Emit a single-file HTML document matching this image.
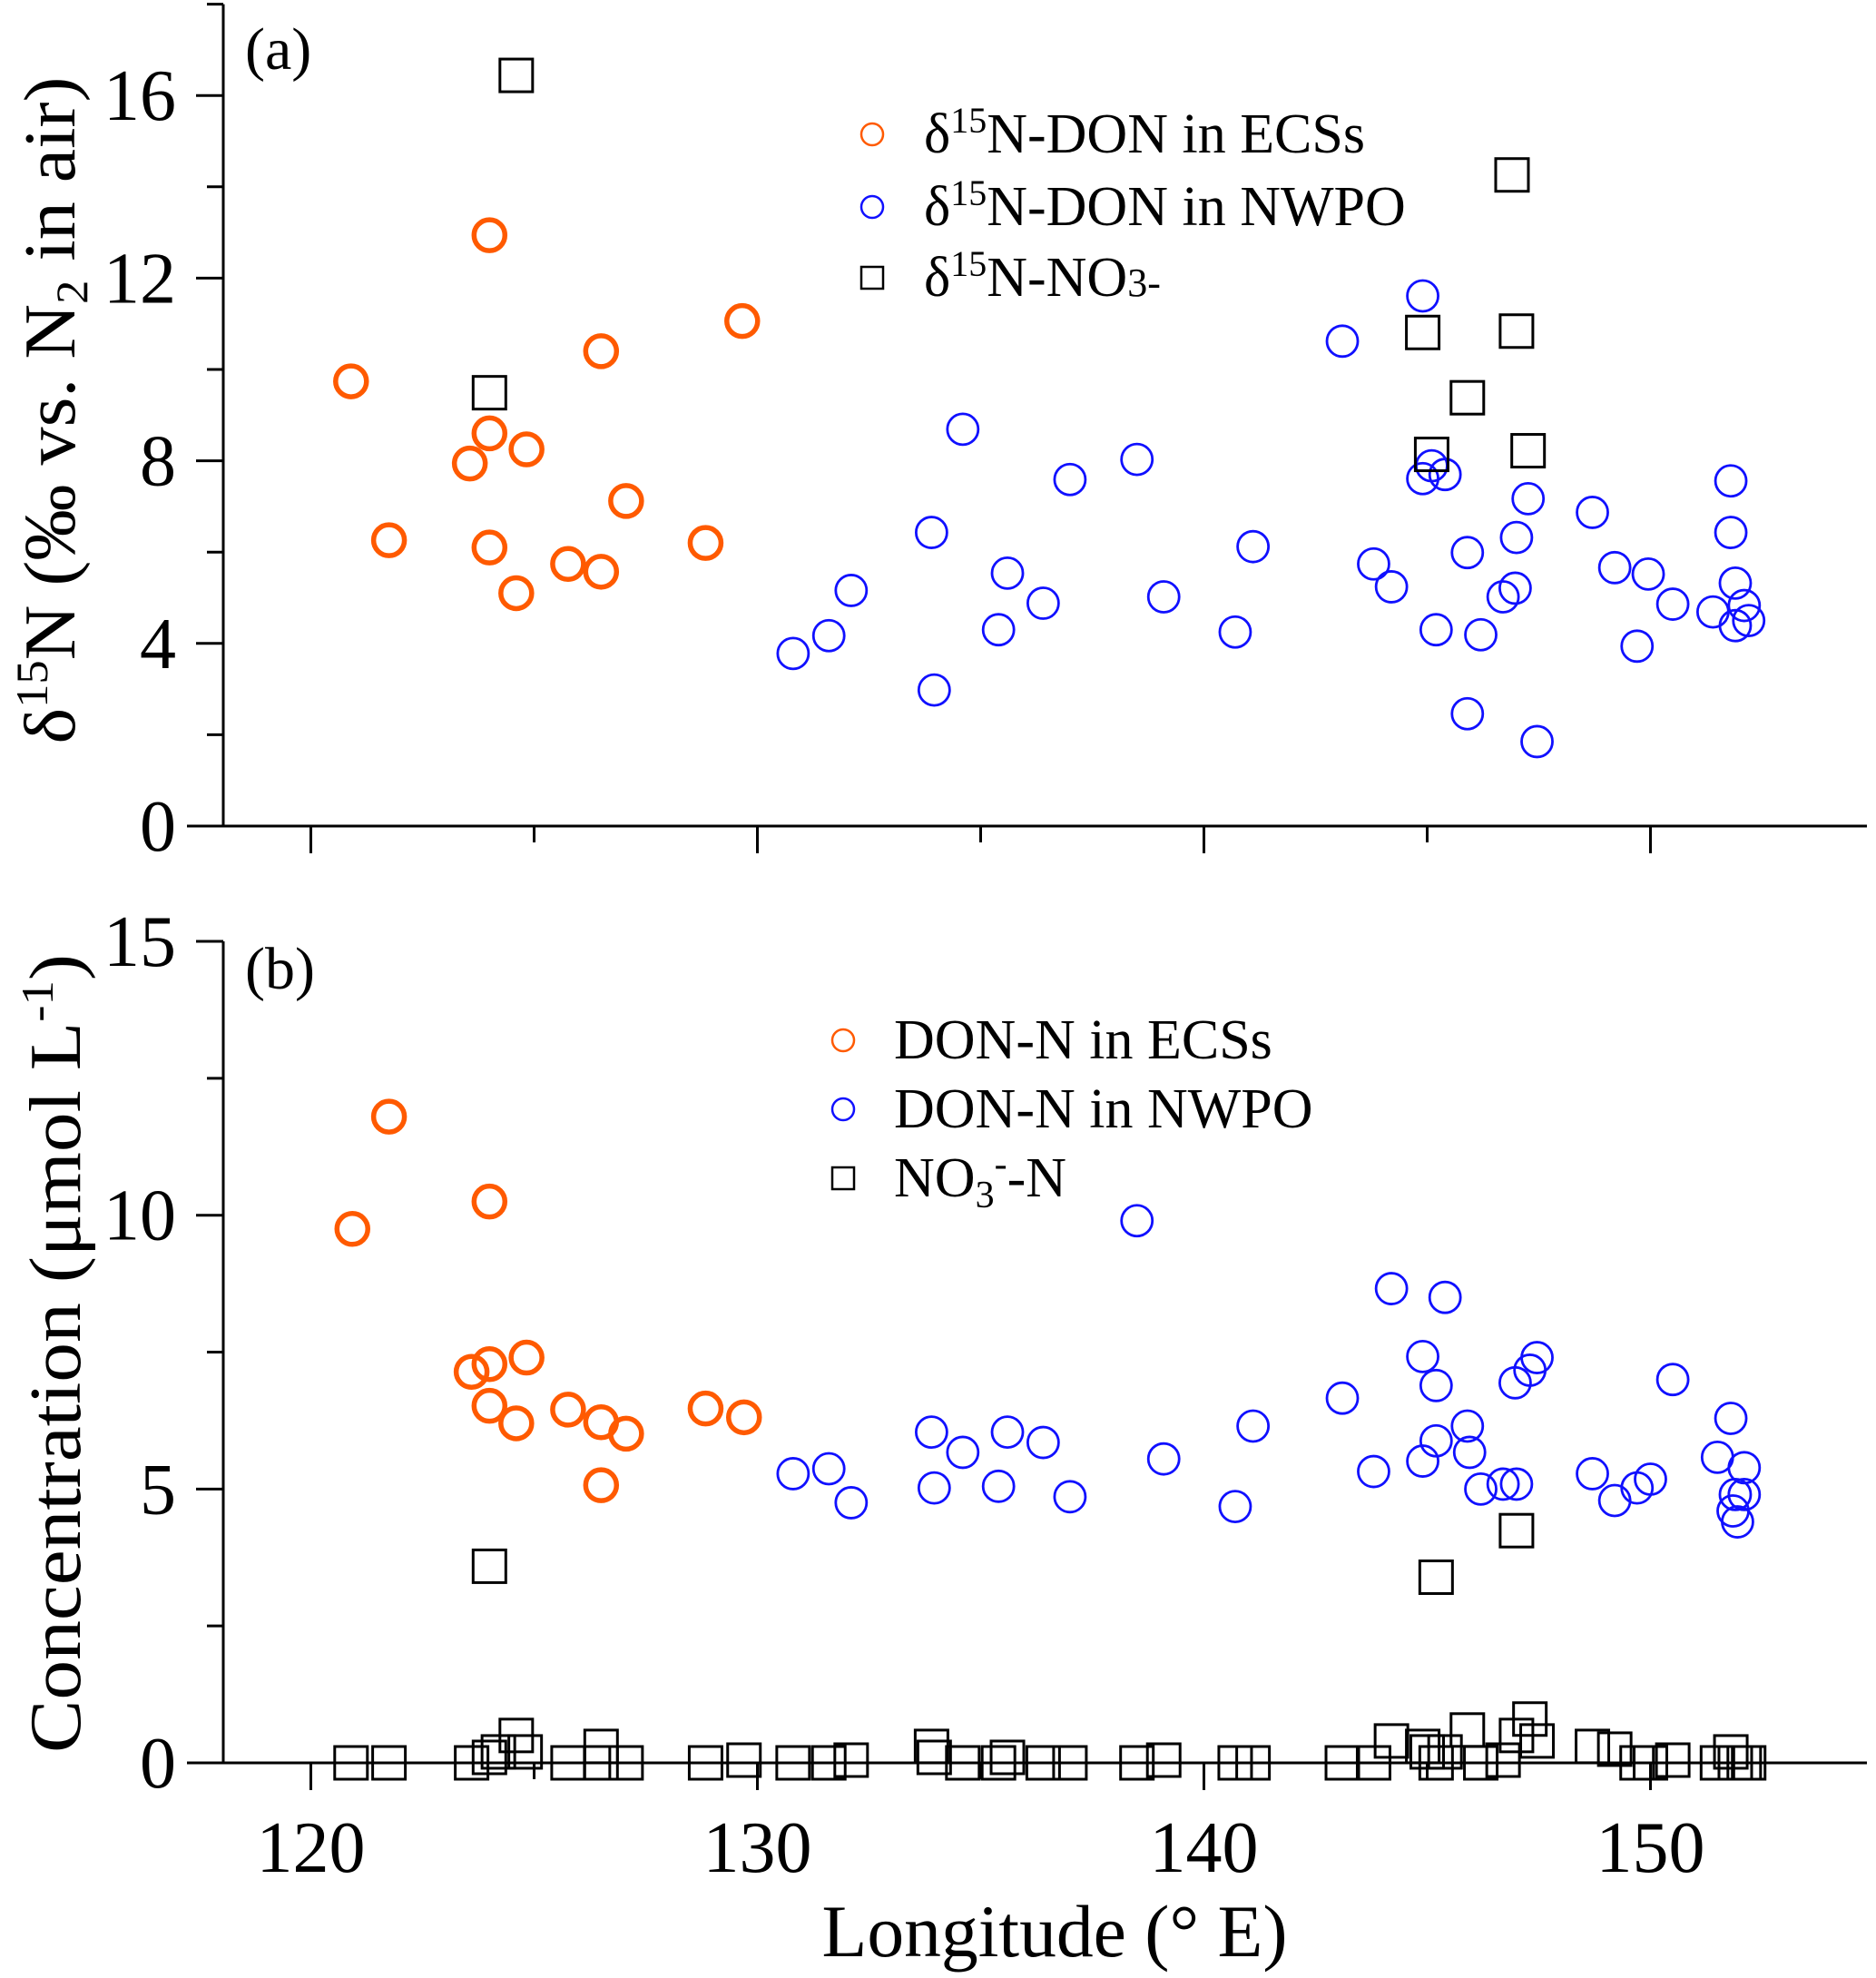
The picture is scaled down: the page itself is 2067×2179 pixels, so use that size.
<!DOCTYPE html>
<html><head><meta charset="utf-8"><style>
html,body{margin:0;padding:0;background:#fff;}
svg{display:block;font-family:"Liberation Serif",serif;}
</style></head><body>
<svg id="chart" width="2067" height="2179" viewBox="0 0 2067 2179" xmlns="http://www.w3.org/2000/svg">
<g id="top"></g>
<g id="bot"></g>
</svg>
<script>
// Panel (a) data
const aEcsLon = [120.9,121.75,124.0,124.0,123.56,124.83,124.0,124.6,125.76,126.5,126.5,127.06,128.84,129.66];
const aEcsVal = [9.74,6.26,12.94,8.6,7.94,8.25,6.1,5.1,5.74,5.57,10.4,7.12,6.2,11.06];
const aNwLon = [130.8,131.6,132.1,133.9,133.96,134.6,135.4,135.6,136.4,137.0,138.5,139.1,140.7,141.1,143.1,143.8,144.2,144.9,144.9,145.1,145.4,145.2,145.9,145.9,146.2,146.7,146.97,147.0,147.26,147.46,148.7,149.2,149.7,149.95,150.5,151.8,151.8,151.4,151.9,152.1,151.9,152.2];
const aNwVal = [3.78,4.17,5.16,6.43,2.98,8.69,4.3,5.54,4.88,7.59,8.03,5.02,4.25,6.12,10.62,5.74,5.24,11.61,7.61,7.89,7.7,4.3,5.99,2.46,4.19,5.02,5.21,6.32,7.17,1.85,6.87,5.66,3.94,5.52,4.86,7.56,6.43,4.69,5.32,4.83,4.39,4.5];
const aNoLon = [124.6,124.0,144.9,145.1,145.9,146.9,147.0,147.26];
const aNoVal = [16.44,9.49,10.81,8.14,9.38,14.26,10.84,8.22];
const aTicks = [0,4,8,12,16];
// Panel (b) data
const bEcsLon = [120.93,121.75,124.0,123.6,124.0,124.83,124.0,124.6,125.76,126.5,127.06,126.5,128.84,129.7];
const bEcsVal = [9.75,11.8,10.25,7.14,7.28,7.4,6.52,6.2,6.45,6.22,6.01,5.07,6.47,6.31];
const bNwLon = [130.8,131.6,132.1,133.9,133.96,134.6,135.4,135.6,136.4,137.0,138.5,139.1,140.7,141.1,143.1,143.8,144.2,144.9,144.9,145.2,145.4,145.2,145.9,145.95,146.2,146.7,147.0,146.97,147.3,147.46,148.7,149.2,149.7,150.0,150.5,151.5,151.8,152.1,151.9,152.1,151.85,151.95];
const bNwVal = [5.28,5.37,4.75,6.04,5.02,5.67,5.05,6.04,5.85,4.86,9.9,5.55,4.68,6.15,6.66,5.32,8.66,5.51,7.42,6.89,8.5,5.88,6.15,5.67,5.0,5.09,5.09,6.94,7.17,7.4,5.28,4.79,5.02,5.18,7.0,5.58,6.29,5.39,4.9,4.9,4.6,4.4];
const bNoLon = [124.0,145.2,147.0,120.9,121.75,123.6,124.0,124.2,124.6,124.8,125.76,126.5,126.5,127.06,128.84,129.7,130.8,131.6,132.1,133.9,133.96,134.6,135.4,135.6,136.4,137.0,138.5,139.1,140.7,141.1,143.1,143.8,144.2,144.9,145.0,145.2,145.4,145.9,146.2,146.7,147.0,147.3,147.46,148.7,149.2,149.7,150.0,150.5,151.5,151.8,151.9,152.1,152.2];
const bNoVal = [3.59,3.39,4.24,0,0,0,0.1,0.2,0.5,0.2,0,0.3,0,0,0,0.05,0,0,0.05,0.3,0.1,0,0,0.1,0,0,0,0.05,0,0,0,0,0.4,0.3,0.2,0,0.2,0.6,0,0.05,0.5,0.8,0.4,0.3,0.25,0,0,0.05,0,0.2,0,0,0];
const bTicks = [0,5,10,15];
const xTicks = [120,130,140,150];

const NS = "http://www.w3.org/2000/svg";
function mk(parent, tag, attrs, text){
  const e = document.createElementNS(NS, tag);
  for (const k in attrs) e.setAttribute(k, attrs[k]);
  if (text !== undefined) e.textContent = text;
  parent.appendChild(e);
  return e;
}
const X0 = 246, XR = 2057;
function xs(lon){ return 342.5 + (lon - 120) * 49.2; }

function axes(g, ys, yMax, minorStep, majorTicks, showXLabels){
  const yb = ys(0), yt = ys(yMax);
  let el = mk(g, 'line', {x1:X0, y1:yt, x2:X0, y2:yb+1.5, stroke:'#000','stroke-width':3});
  
  
  el = mk(g, 'line', {x1:X0-40, y1:yb, x2:XR, y2:yb, stroke:'#000','stroke-width':3});
  
  
  for (let v = 0; v <= yMax + 0.001; v += minorStep){
    const major = majorTicks.some(t => Math.abs(t - v) < 0.001);
    el = mk(g, 'line', {x1:X0-(major?30:18), y1:ys(v), x2:X0, y2:ys(v), stroke:'#000','stroke-width':3});
    
    
  }
  majorTicks.forEach(t => {
    el = mk(g, 'text', {x:194, y:ys(t)+27, 'font-size':80, 'text-anchor':'end', fill:'#000'}, String(t));
    
    
  });
  for (let lon = 120; lon <= 150; lon += 5){
    const major = lon % 10 === 0;
    el = mk(g, 'line', {x1:xs(lon), y1:yb, x2:xs(lon), y2:yb+(major?30:18), stroke:'#000','stroke-width':3});
    
    
  }
  if (showXLabels){
    xTicks.forEach(t => {
      el = mk(g, 'text', {x:xs(t), y:2062, 'font-size':80, 'text-anchor':'middle', fill:'#000'}, String(t));
      
      
    });
  }
}
function circles(g, lons, vals, ys, color, sw, name){
  lons.forEach((lon, i) => {
    const c = mk(g, 'circle', {cx:xs(lon), cy:ys(vals[i]), r:17, fill:'none', stroke:color, 'stroke-width':sw});
    
    
  });
}
function squares(g, lons, vals, ys, name){
  lons.forEach((lon, i) => {
    const r = mk(g, 'rect', {x:xs(lon)-18, y:ys(vals[i])-18, width:36, height:36, fill:'none', stroke:'#000', 'stroke-width':3});
    
    
  });
}
function legend(g, x, tx, rows){
  rows.forEach((r, i) => {
    let m;
    if (r.shape === 'c') m = mk(g, 'circle', {cx:x, cy:r.y, r:12, fill:'none', stroke:r.color, 'stroke-width':2.5});
    else m = mk(g, 'rect', {x:x-12, y:r.y-12, width:24, height:24, fill:'none', stroke:'#000', 'stroke-width':2.5});
    
    
    const t = mk(g, 'text', {x:tx, y:r.y+20, 'font-size':62, fill:'#000'});
    t.innerHTML = r.html;
    
    
  });
}

// Panel a
const ga = document.getElementById('top');
const ysA = v => 910 - v * 50.3;
axes(ga, ysA, 18.0, 2, aTicks, false);
circles(ga, aEcsLon, aEcsVal, ysA, '#ff5a00', 5.5, 'point-don-ecss');
circles(ga, aNwLon, aNwVal, ysA, '#1010ff', 2.8, 'point-don-nwpo');
squares(ga, aNoLon, aNoVal, ysA, 'point-no3');
legend(ga, 961, 1018, [
  {y:148, shape:'c', color:'#ff5a00', html:'δ<tspan font-size="40" dy="-22">15</tspan><tspan dy="22">N-DON in ECSs</tspan>'},
  {y:228, shape:'c', color:'#1010ff', html:'δ<tspan font-size="40" dy="-22">15</tspan><tspan dy="22">N-DON in NWPO</tspan>'},
  {y:306, shape:'s', html:'δ<tspan font-size="40" dy="-22">15</tspan><tspan dy="22">N-NO</tspan><tspan font-size="44">3-</tspan>'}
]);
let e = mk(ga, 'text', {x:270, y:76, 'font-size':66, fill:'#000'}, '(a)');


e = mk(ga, 'text', {x:0, y:0, 'font-size':80, 'text-anchor':'middle', fill:'#000', transform:'translate(82,452) rotate(-90)', textLength:735, lengthAdjust:'spacingAndGlyphs'});
e.innerHTML = 'δ<tspan font-size="50" dy="-30">15</tspan><tspan dy="30">N (‰ vs. N</tspan><tspan font-size="50" dy="14">2</tspan><tspan dy="-14"> in air)</tspan>';



// Panel b
const gb = document.getElementById('bot');
const ysB = v => 1942 - v * 60.33;
axes(gb, ysB, 15, 2.5, bTicks, true);
circles(gb, bEcsLon, bEcsVal, ysB, '#ff5a00', 5.5, 'point-don-ecss');
circles(gb, bNwLon, bNwVal, ysB, '#1010ff', 2.8, 'point-don-nwpo');
squares(gb, bNoLon, bNoVal, ysB, 'point-no3');
legend(gb, 929, 985, [
  {y:1146, shape:'c', color:'#ff5a00', html:'DON-N in ECSs'},
  {y:1222, shape:'c', color:'#1010ff', html:'DON-N in NWPO'},
  {y:1298, shape:'s', html:'NO<tspan font-size="42" dy="12">3</tspan><tspan font-size="42" dy="-34">-</tspan><tspan dy="22">-N</tspan>'}
]);
e = mk(gb, 'text', {x:270, y:1089, 'font-size':66, fill:'#000'}, '(b)');


e = mk(gb, 'text', {x:0, y:0, 'font-size':80, 'text-anchor':'middle', fill:'#000', transform:'translate(88,1491) rotate(-90)', textLength:880, lengthAdjust:'spacingAndGlyphs'});
e.innerHTML = 'Concentration (μmol L<tspan font-size="50" dy="-30">-1</tspan><tspan dy="30">)</tspan>';


e = mk(gb, 'text', {x:1162, y:2155, 'font-size':82, 'text-anchor':'middle', fill:'#000', textLength:513, lengthAdjust:'spacingAndGlyphs'}, 'Longitude (° E)');


</script>
</body></html>
